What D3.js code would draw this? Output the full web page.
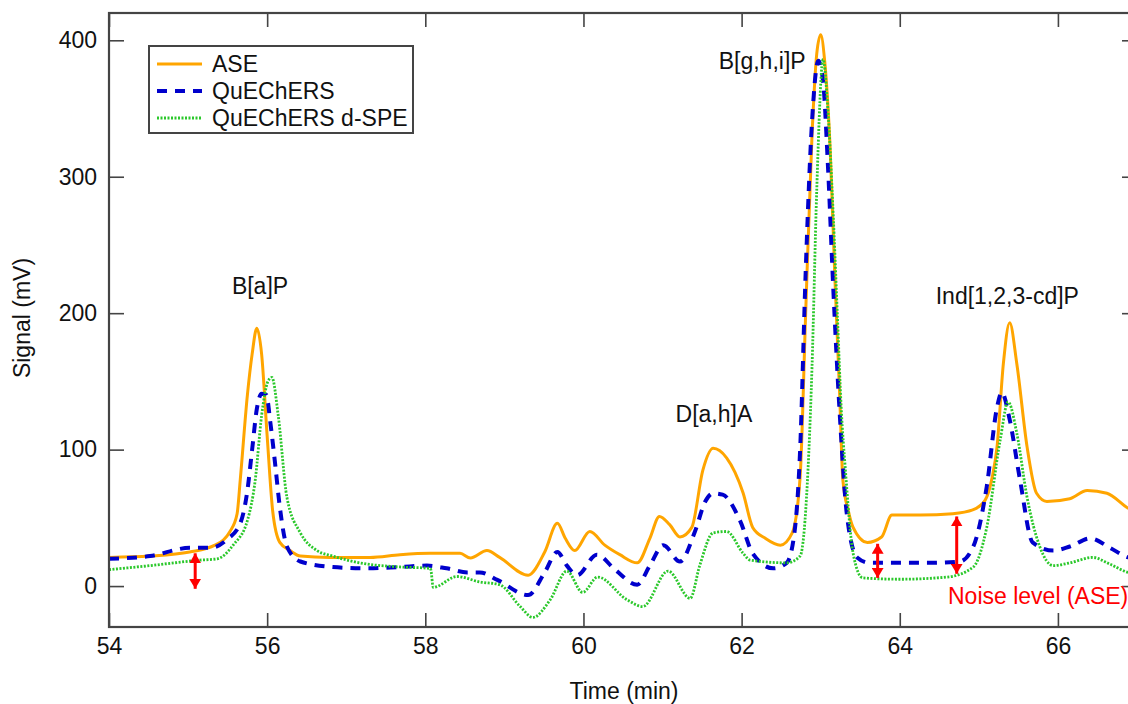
<!DOCTYPE html>
<html><head><meta charset="utf-8">
<script src="https://cdn.jsdelivr.net/npm/d3@7"></script>
<style>body{margin:0;background:#fff;overflow:hidden} svg text{font-family:"Liberation Sans",Arial,sans-serif}</style>
</head><body><svg id="c" width="1128" height="704"></svg>
<script>
// ---- data ----
const aseTime=[54.00,54.52,55.02,55.34,55.53,55.62,55.66,55.75,55.81,55.87,55.93,56.00,56.07,56.16,56.29,56.42,56.79,57.30,57.68,58.06,58.44,58.57,58.78,58.94,59.30,59.51,59.67,59.77,59.89,60.08,60.27,60.46,60.68,60.84,60.96,61.09,61.22,61.37,61.51,61.64,61.81,62.02,62.14,62.30,62.49,62.64,62.74,62.81,62.89,62.95,63.00,63.05,63.12,63.18,63.24,63.28,63.35,63.41,63.59,63.77,63.90,64.26,64.67,64.93,65.08,65.17,65.23,65.31,65.39,65.48,65.61,65.73,65.86,66.15,66.37,66.62,66.89,67.0];
const aseSignal=[21,22,25,30,40,53,78,140,170,189,170,110,55,32,26,22,21,21,23,24,24,20.5,26,21,8,25,46,35,26,40,30,23,17,35,51,45,36,43,85,101,94,68,43,35,30,39,80,200,330,390,404,385,320,225,140,78,55,43,32,36,52,52,53,56,63,80,102,163,193,163,102,68,62,64,70,68,57,54];

const quechersTime=[54.00,54.52,55.02,55.28,55.49,55.66,55.75,55.81,55.87,55.93,55.99,56.04,56.10,56.16,56.25,56.42,56.83,57.26,57.68,58.02,58.27,58.53,58.69,58.91,59.30,59.51,59.67,59.79,59.92,60.17,60.40,60.68,60.84,61.01,61.22,61.41,61.54,61.64,61.76,61.98,62.14,62.40,62.57,62.67,62.74,62.81,62.89,62.97,63.03,63.09,63.16,63.24,63.33,63.46,63.62,64.38,64.76,64.93,65.10,65.23,65.29,65.39,65.52,65.68,65.94,66.15,66.41,66.66,66.89,67.0];
const quechersSignal=[20,22,28,28,34,46,70,100,130,141,140,120,90,58,29,18,14,13,14,15,13,10,10,4.5,-6.6,10,25,15,8,23,12,1,15,30,18,40,62,68,67,48,24,13,17,40,100,230,340,385,370,310,217,127,53,21,17,17,18,29,73,131,142,122,78,32,26,29,35,28,21,20];

const dspeTime=[54.00,54.52,55.15,55.37,55.57,55.75,55.85,55.93,56.01,56.06,56.14,56.25,56.42,56.63,56.83,57.17,57.68,58.06,58.07,58.10,58.40,58.69,58.94,59.20,59.36,59.58,59.79,59.99,60.18,60.55,60.75,61.07,61.35,61.47,61.64,61.81,62.02,62.11,62.57,62.74,62.81,62.89,62.95,63.03,63.09,63.16,63.21,63.26,63.31,63.41,63.53,64.00,64.60,64.93,65.10,65.27,65.37,65.48,65.61,65.77,65.94,66.15,66.44,66.66,66.89,67.0];
const dspeSignal=[12,15,19,20,30,48,78,125,150,153,125,65,39,26,22,17,14,13,12,-1,7,3,1,-15,-23,-10,11,-4.6,6.6,-10,-15,11,-9,15,39,40,24,19,17,22,55,160,290,386,350,270,200,130,87,24,6,5,6.6,14,43,107,135,112,65,29,15,17,21,16,10,9];

const seriesNames=["ASE","QuEChERS","QuEChERS d-SPE"];
const xTicks=[54,56,58,60,62,64,66];
const yTicks=[0,100,200,300,400];
const xTitle="Time (min)";
const yTitle="Signal (mV)";

const peakLabels=["B[a]P","D[a,h]A","B[g,h,i]P","Ind[1,2,3-cd]P"];
const peakLabelTime=[55.91,61.65,62.26,65.36];
const peakLabelSignal=[214,120,379,207];

const noiseLabel="Noise level (ASE)";
const noiseLabelTime=64.61, noiseLabelSignal=-13;
const noiseArrowTime=[55.09,63.72,64.72];
const noiseArrowTop=[24,31,51];
const noiseArrowBottom=[-2,6,9];

// ---- drawing ----
const svg=d3.select("#c");
const L=109,R=1137,T=13,B=627;
const x=d3.scaleLinear().domain([54,67]).range([L,R]);
const y=d3.scaleLinear().domain([-30,420]).range([B,T]);
const axisColor="#444";
const fs=23;

svg.append("defs").append("clipPath").attr("id","clip")
  .append("rect").attr("x",L).attr("y",T).attr("width",R-L).attr("height",B-T);
const defs=svg.select("defs");
defs.append("marker").attr("id","ah").attr("viewBox","0 0 10 12")
  .attr("refX",10).attr("refY",6).attr("markerWidth",10).attr("markerHeight",12)
  .attr("markerUnits","userSpaceOnUse").attr("orient","auto-start-reverse")
  .append("path").attr("d","M0,0 L10,6 L0,12 Z").attr("fill","#ff0000");

const zip=(t,v)=>t.slice(0,Math.min(t.length,v.length)).map((d,i)=>[d,v[i]]);
const series=[
  {name:seriesNames[0],data:zip(aseTime,aseSignal),color:"#ffa500",width:3,dash:null},
  {name:seriesNames[1],data:zip(quechersTime,quechersSignal),color:"#0000cc",width:4,dash:"10,8"},
  {name:seriesNames[2],data:zip(dspeTime,dspeSignal),color:"#2bc82b",width:2.8,dash:"2,1.5"}
];
const line=d3.line().x(d=>x(d[0])).y(d=>y(d[1])).curve(d3.curveMonotoneX);

const plot=svg.append("g").attr("clip-path","url(#clip)");
series.forEach(s=>{
  plot.append("path").datum(s.data).attr("d",line).attr("fill","none")
    .attr("stroke",s.color).attr("stroke-width",s.width)
    .attr("stroke-dasharray",s.dash).attr("stroke-linejoin","round");
});

// axes
const ax=svg.append("g").attr("transform",`translate(0,${B})`)
  .call(d3.axisBottom(x).tickValues(xTicks).tickSize(-14).tickSizeOuter(0).tickPadding(11).tickFormat(d3.format("d")));
const ay=svg.append("g").attr("transform",`translate(${L},0)`)
  .call(d3.axisLeft(y).tickValues(yTicks).tickSize(-15).tickSizeOuter(0).tickPadding(12).tickFormat(d3.format("d")));
const axt=svg.append("g").attr("transform",`translate(0,${T})`)
  .call(d3.axisTop(x).tickValues(xTicks).tickSize(-14).tickSizeOuter(0).tickFormat(""));
const ayr=svg.append("g").attr("transform",`translate(${R},0)`)
  .call(d3.axisRight(y).tickValues(yTicks).tickSize(-15).tickSizeOuter(0).tickFormat(""));
[ax,ay,axt,ayr].forEach(g=>{
  g.select(".domain").remove();
  g.selectAll(".tick line").attr("stroke",axisColor).attr("stroke-width",1.6);
  g.selectAll(".tick text").attr("fill","#111").style("font-size",fs+"px");
});
svg.append("rect").attr("x",L).attr("y",T).attr("width",R-L).attr("height",B-T)
  .attr("fill","none").attr("stroke",axisColor).attr("stroke-width",2.2);

svg.append("text").attr("x",624).attr("y",699).attr("text-anchor","middle")
  .style("font-size",fs+"px").attr("fill","#111").text(xTitle);
svg.append("text").attr("transform","translate(30,318) rotate(-90)").attr("text-anchor","middle")
  .style("font-size",fs+"px").attr("fill","#111").text(yTitle);

// peak labels
peakLabels.forEach((t,i)=>{
  svg.append("text").attr("x",x(peakLabelTime[i])).attr("y",y(peakLabelSignal[i]))
    .attr("text-anchor","middle").style("font-size",fs+"px").attr("fill","#111").text(t);
});

// noise arrows
noiseArrowTime.forEach((t,i)=>{
  svg.append("line").attr("x1",x(t)).attr("x2",x(t))
    .attr("y1",y(noiseArrowTop[i])).attr("y2",y(noiseArrowBottom[i]))
    .attr("stroke","#ff0000").attr("stroke-width",3)
    .attr("marker-start","url(#ah)").attr("marker-end","url(#ah)");
});
svg.append("text").attr("x",x(noiseLabelTime)).attr("y",y(noiseLabelSignal))
  .style("font-size",fs+"px").attr("fill","#ff0000").text(noiseLabel);

// legend
const lg=svg.append("g");
lg.append("rect").attr("x",149).attr("y",46).attr("width",264).attr("height",87)
  .attr("fill","#fff").attr("stroke",axisColor).attr("stroke-width",2);
series.forEach((s,i)=>{
  const yy=64+i*27;
  lg.append("line").attr("x1",157).attr("x2",202).attr("y1",yy).attr("y2",yy)
    .attr("stroke",s.color).attr("stroke-width",s.width).attr("stroke-dasharray",s.dash);
  lg.append("text").attr("x",212).attr("y",yy+8).style("font-size",fs+"px").attr("fill","#111").text(s.name);
});
</script></body></html>
